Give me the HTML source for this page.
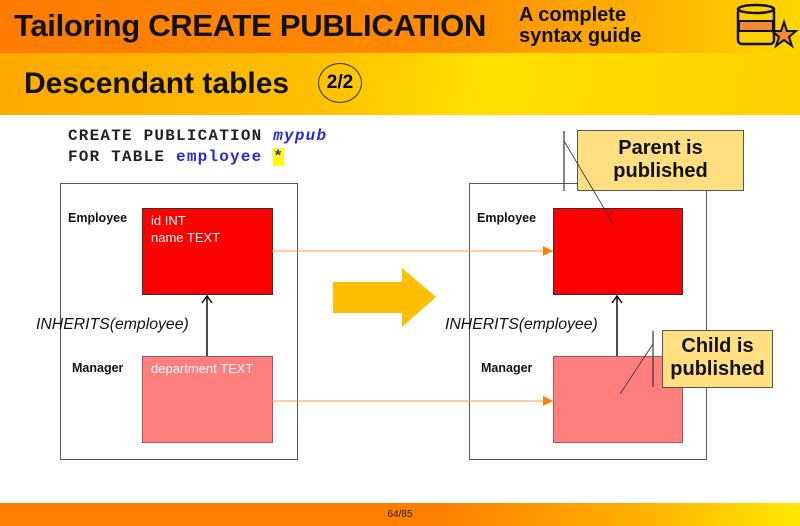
<!DOCTYPE html>
<html><head><meta charset="utf-8"><style>
html,body{margin:0;padding:0;}
body{width:800px;height:526px;position:relative;overflow:hidden;background:#fff;font-family:"Liberation Sans",sans-serif;}
.abs{position:absolute;}
</style></head><body>
<div class="abs" style="left:0;top:0;width:800px;height:53px;background:linear-gradient(90deg,#ff7c00 0%,#ff8a00 55%,#ffb000 80%,#ffd800 100%);"></div>
<div class="abs" style="left:0;top:53px;width:800px;height:62px;background:linear-gradient(100deg,#ffa800 0%,#ffc000 40%,#ffe000 60%,#ffd000 100%);"></div>
<div class="abs" style="left:14px;top:8px;font-size:31px;font-weight:bold;color:#111;letter-spacing:-0.3px;">Tailoring CREATE PUBLICATION</div>
<div class="abs" style="left:519px;top:5px;font-size:20px;font-weight:bold;color:#111;line-height:21px;">A complete<br>syntax guide</div>
<div class="abs" style="left:24px;top:67px;font-size:30px;font-weight:bold;color:#111;">Descendant tables</div>
<div class="abs" style="left:318px;top:63px;width:42px;height:38px;border:1.5px solid #333;border-radius:50%;font-size:19px;font-weight:bold;text-align:center;line-height:38px;">2/2</div>
<svg class="abs" style="left:730px;top:0" width="70" height="55">
<rect x="8" y="8" width="36" height="36" rx="4" fill="#ffd000" stroke="#111" stroke-width="2.5"/>
<rect x="9" y="21" width="34" height="10" fill="#f08a3a" stroke="#111" stroke-width="2"/>
<ellipse cx="26" cy="9" rx="18" ry="4" fill="#ffd000" stroke="#111" stroke-width="2.5"/>
<polygon points="54,22 57,31 66,31 59,37 62,46 54,40 46,46 49,37 42,31 51,31" fill="#f08a3a" stroke="#111" stroke-width="2"/>
</svg>
<div class="abs" style="left:0;top:503px;width:800px;height:23px;background:linear-gradient(90deg,#ff7f00 0%,#ff8000 55%,#ffb000 80%,#ffe800 100%);"></div>
<div class="abs" style="left:0;top:509px;width:800px;text-align:center;font-size:10px;color:#222;">64/85</div>

<div class="abs" style="left:68px;top:126px;font-family:'Liberation Mono',monospace;font-weight:bold;font-size:16px;letter-spacing:1.2px;line-height:21px;color:#222;">CREATE PUBLICATION <i style="color:#2a2ad0">mypub</i><br>FOR TABLE <span style="color:#2a2ad0">employee</span> <span style="background:#ffff00;color:#2a2ad0">*</span></div>

<svg class="abs" style="left:0;top:0" width="800" height="526">
<rect x="60.5" y="183.5" width="237" height="276" fill="none" stroke="#555" stroke-width="1"/>
<rect x="469.5" y="183.5" width="237" height="276" fill="none" stroke="#555" stroke-width="1"/>
<rect x="142.5" y="208.5" width="130" height="86" fill="#ff0000" stroke="#333"/>
<rect x="142.5" y="356.5" width="130" height="86" fill="#ff7f7f" stroke="#a55"/>
<rect x="553.5" y="208.5" width="129" height="86" fill="#ff0000" stroke="#333"/>
<rect x="553.5" y="356.5" width="129" height="86" fill="#ff7f7f" stroke="#a55"/>
<line x1="207" y1="356" x2="207" y2="296" stroke="#111" stroke-width="1.5"/>
<polyline points="202,303 207,296 212,303" fill="none" stroke="#111" stroke-width="1.5"/>
<line x1="617" y1="356" x2="617" y2="296" stroke="#111" stroke-width="1.5"/>
<polyline points="612,303 617,296 622,303" fill="none" stroke="#111" stroke-width="1.5"/>
<line x1="272" y1="251" x2="545" y2="251" stroke="#ff9a50" stroke-width="1"/>
<polygon points="543,246 553,251 543,256" fill="#ff7f00"/>
<line x1="272" y1="401" x2="545" y2="401" stroke="#ff9a50" stroke-width="1"/>
<polygon points="543,396 553,401 543,406" fill="#ff7f00"/>
<polygon points="333,282 402,282 402,268 436,297 402,327 402,313 333,313" fill="#ffbe00"/>
<rect x="577.5" y="130.5" width="166" height="60" fill="#ffdf80" stroke="#555"/>
<rect x="662.5" y="330.5" width="110" height="57" fill="#ffdf80" stroke="#555"/>
<line x1="564" y1="131" x2="564" y2="191" stroke="#333" stroke-width="1.2"/>
<line x1="564" y1="141" x2="614" y2="225" stroke="#333" stroke-width="0.8"/>
<line x1="653" y1="331" x2="653" y2="387" stroke="#333" stroke-width="1.2"/>
<line x1="653" y1="344" x2="620" y2="394" stroke="#333" stroke-width="0.8"/>
</svg>
<div class="abs" style="left:577px;top:137px;width:167px;text-align:center;font-size:20px;font-weight:bold;line-height:23px;color:#111;">Parent is<br>published</div>
<div class="abs" style="left:662px;top:335px;width:111px;text-align:center;font-size:20px;font-weight:bold;line-height:23px;color:#111;">Child is<br>published</div>

<div class="abs" style="left:68px;top:211px;font-size:12.5px;font-weight:bold;color:#111;">Employee</div>
<div class="abs" style="left:72px;top:361px;font-size:12.5px;font-weight:bold;color:#111;">Manager</div>
<div class="abs" style="left:477px;top:211px;font-size:12.5px;font-weight:bold;color:#111;">Employee</div>
<div class="abs" style="left:481px;top:361px;font-size:12.5px;font-weight:bold;color:#111;">Manager</div>
<div class="abs" style="left:151px;top:212px;font-size:13px;color:#fff;line-height:17px;">id INT<br>name TEXT</div>
<div class="abs" style="left:151px;top:361px;font-size:13px;color:#fff;">department TEXT</div>
<div class="abs" style="left:36px;top:316px;font-size:15.8px;font-style:italic;color:#111;">INHERITS(employee)</div>
<div class="abs" style="left:445px;top:316px;font-size:15.8px;font-style:italic;color:#111;">INHERITS(employee)</div>
</body></html>
